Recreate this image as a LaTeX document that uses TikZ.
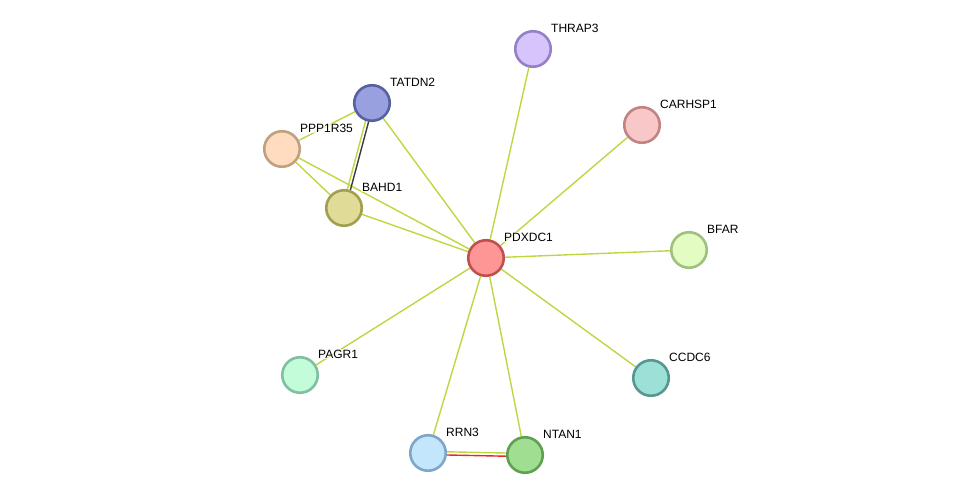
\documentclass[tikz,border=0pt]{standalone}
\usepackage{fontspec}
\setmainfont{Liberation Sans}
\usetikzlibrary{backgrounds}

\definecolor{edgegreen}{RGB}{192,214,64}
\definecolor{edgedark}{RGB}{60,60,60}
\definecolor{edgered}{RGB}{230,40,40}

\begin{document}
\begin{tikzpicture}[x=1pt,y=-1pt,
  prot/.style={circle,minimum size=35.5pt,inner sep=0pt,line width=2.6pt},
  lab/.style={anchor=west,font=\fontsize{12}{14}\selectfont,inner sep=1pt,fill=white,fill opacity=0.7,text opacity=1},
  link/.style={edgegreen,line width=1.4pt}]

  \useasboundingbox (0,0) rectangle (975,500);

  \node[prot,fill={rgb,255:red,255;green,150;blue,150},draw={rgb,255:red,190;green,80;blue,80}] (pdxdc1) at (486,258) {};
  \node[prot,fill={rgb,255:red,214;green,196;blue,252},draw={rgb,255:red,150;green,128;blue,200}] (thrap3) at (533,49) {};
  \node[prot,fill={rgb,255:red,248;green,200;blue,200},draw={rgb,255:red,192;green,132;blue,132}] (carhsp1) at (642,125) {};
  \node[prot,fill={rgb,255:red,226;green,252;blue,194},draw={rgb,255:red,160;green,192;blue,128}] (bfar) at (689,250) {};
  \node[prot,fill={rgb,255:red,156;green,224;blue,216},draw={rgb,255:red,86;green,152;blue,144}] (ccdc6) at (651,378) {};
  \node[prot,fill={rgb,255:red,160;green,222;blue,146},draw={rgb,255:red,96;green,160;blue,82}] (ntan1) at (525,455) {};
  \node[prot,fill={rgb,255:red,196;green,230;blue,252},draw={rgb,255:red,126;green,166;blue,200}] (rrn3) at (428,453) {};
  \node[prot,fill={rgb,255:red,194;green,252;blue,216},draw={rgb,255:red,128;green,192;blue,160}] (pagr1) at (300,375) {};
  \node[prot,fill={rgb,255:red,224;green,220;blue,152},draw={rgb,255:red,160;green,160;blue,82}] (bahd1) at (344,208) {};
  \node[prot,fill={rgb,255:red,255;green,220;blue,192},draw={rgb,255:red,192;green,160;blue,128}] (ppp1r35) at (282,149) {};
  \node[prot,fill={rgb,255:red,152;green,160;blue,224},draw={rgb,255:red,88;green,96;blue,160}] (tatdn2) at (372,103) {};

  \node[lab] (l1) at ([shift={(17,-21)}]pdxdc1.center) {PDXDC1};
  \node[lab] (l2) at ([shift={(17,-21)}]thrap3.center) {THRAP3};
  \node[lab] (l3) at ([shift={(17,-21)}]carhsp1.center) {CARHSP1};
  \node[lab] (l4) at ([shift={(17,-21)}]bfar.center) {BFAR};
  \node[lab] (l5) at ([shift={(17,-21)}]ccdc6.center) {CCDC6};
  \node[lab] (l6) at ([shift={(17,-21)}]ntan1.center) {NTAN1};
  \node[lab] (l7) at ([shift={(17,-21)}]rrn3.center) {RRN3};
  \node[lab] (l8) at ([shift={(17,-21)}]pagr1.center) {PAGR1};
  \node[lab] (l9) at ([shift={(17,-21)}]bahd1.center) {BAHD1};
  \node[lab] (l10) at ([shift={(17,-21)}]ppp1r35.center) {PPP1R35};
  \node[lab] (l11) at ([shift={(17,-21)}]tatdn2.center) {TATDN2};

  \begin{pgfonlayer}{background}
  \path[link]
    (pdxdc1) edge (thrap3)
             edge (carhsp1)
             edge (bfar)
             edge (ccdc6)
             edge (ntan1)
             edge (rrn3)
             edge (pagr1)
             edge (bahd1)
             edge (ppp1r35)
             edge (tatdn2)
    (ppp1r35) edge (tatdn2)
              edge (bahd1);
  % double links
  \draw[link] ([xshift=-1.6pt]tatdn2.center) -- ([xshift=-1.6pt]bahd1.center);
  \draw[edgedark,line width=1.4pt] ([xshift=1.6pt]tatdn2.center) -- ([xshift=1.6pt]bahd1.center);
  \draw[link] ([yshift=1.6pt]rrn3.center) -- ([yshift=1.6pt]ntan1.center);
  \draw[edgered,line width=1.4pt] ([yshift=-1.6pt]rrn3.center) -- ([yshift=-1.6pt]ntan1.center);
  \end{pgfonlayer}
\end{tikzpicture}
\end{document}
